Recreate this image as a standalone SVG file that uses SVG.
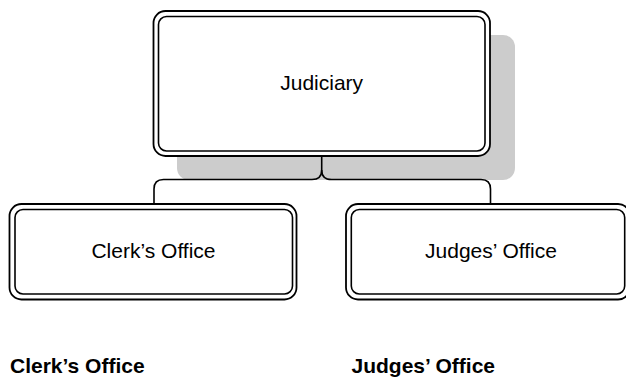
<svg xmlns="http://www.w3.org/2000/svg" width="626" height="377" viewBox="0 0 626 377">
<style>
.outer{fill:#fff;stroke:#000;stroke-width:1.8}
.inner{fill:none;stroke:#000;stroke-width:1.6}
.shadow{fill:#cccccc;stroke:none}
.conn{fill:none;stroke:#000;stroke-width:1.6}
.lbl{font-family:"Liberation Sans",Arial,sans-serif;font-size:21px;fill:#000;text-anchor:middle}
.cap{font-family:"Liberation Sans",Arial,sans-serif;font-size:21px;font-weight:bold;fill:#000}
</style>
<rect width="626" height="377" fill="#fff"/>
<rect class="shadow" x="177" y="35" width="338" height="145" rx="12"/>
<g id="connectors">
<path class="conn" d="M321.7,156 V170 Q321.7,179.5 312,179.5 H163.5 Q154,179.5 154,189 V204"/>
<path class="conn" d="M321.7,170 Q321.7,179.5 331.5,179.5 H481 Q490.5,179.5 490.5,189 V204"/>
</g>
<g id="judiciary">
<rect class="outer" x="153.5" y="11" width="336.5" height="145" rx="12"/>
<rect class="inner" x="158.5" y="16.5" width="326.5" height="134.5" rx="8"/>
<text class="lbl" x="321.7" y="90">Judiciary</text>
</g>
<g id="clerks-office">
<rect class="outer" x="9.5" y="204" width="287" height="95.5" rx="12"/>
<rect class="inner" x="15" y="209.5" width="277.5" height="84.5" rx="8"/>
<text class="lbl" x="153.5" y="257.5">Clerk’s Office</text>
</g>
<g id="judges-office">
<rect class="outer" x="346" y="204" width="284" height="95.5" rx="12"/>
<rect class="inner" x="351.3" y="209.5" width="273.4" height="84.5" rx="8"/>
<text class="lbl" x="491" y="257.5">Judges’ Office</text>
</g>
<text class="cap" x="10" y="372.5">Clerk’s Office</text>
<text class="cap" x="351.5" y="372.5">Judges’ Office</text>
</svg>
